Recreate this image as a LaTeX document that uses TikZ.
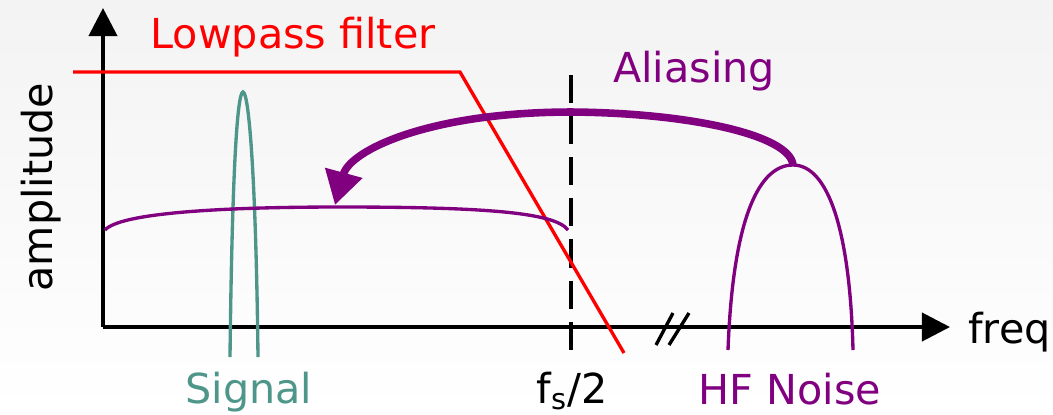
\documentclass[tikz,border=0pt]{standalone}
\usepackage{fontspec}
\setmainfont{DejaVu Sans}
\usepackage{xcolor}
\usetikzlibrary{arrows.meta}
\definecolor{lpred}{RGB}{255,0,0}
\definecolor{aliaspurple}{RGB}{128,0,128}
\definecolor{sigteal}{RGB}{78,150,138}
\definecolor{slidebg}{RGB}{243,243,243}

\begin{document}
\begin{tikzpicture}[
  x=0.02cm, y=-0.02cm,
  axis/.style={line width=2.2pt, -{Triangle[length=16pt, width=16pt]}},
  lbl/.style={inner sep=0, anchor=base, font=\fontsize{23.5}{27}\selectfont},
  thin/.style={line width=1.9pt},
  fold/.style={line width=4.3pt, aliaspurple, -{Triangle[length=19pt, width=21pt]}}
]
\useasboundingbox (0,0) rectangle (1053,414);
\shade[top color=slidebg, bottom color=white] (0,0) rectangle (1053,414);

\coordinate (O) at (103,327);
\coordinate (ytip) at (103,8);
\coordinate (xtip) at (950,327);
\draw[axis] (O) -- (ytip);
\draw[axis] (O) -- (xtip);
\draw[thin] (656,345) -- (673,313);
\draw[thin] (669,345) -- (689,313);

\node[lbl, rotate=90] (amp) at (52,187) {amplitude};
\node[lbl, anchor=base west] (freq) at (968,343) {freq};

% sampling limit
\coordinate (nyqtop) at (571,75);
\coordinate (nyqbot) at (571,355);
\draw[line width=2.2pt, dash pattern=on 16pt off 7.4pt] (nyqtop) -- (nyqbot);
\node[lbl] (nyq) at (572,403) {f\textsubscript{s}/2};

% filter
\draw[thin, lpred] (73,72) -- (460,72) -- (624,353);
\node[lbl, text=lpred] (lp) at (293,48) {Lowpass filter};

% signal
\draw[thin, sigteal] (230,357) .. controls (232,180) and (237,92) .. (243,92)
  .. controls (249,92) and (256,180) .. (258,357);
\node[lbl, text=sigteal] (sig) at (249,403) {Signal};

% noise and its alias
\coordinate (npeak) at (793,165);
\draw[thin, aliaspurple] (728,350) .. controls (733,215) and (760,165) .. (npeak)
  .. controls (828,165) and (850,230) .. (853,350);
\node[lbl, text=aliaspurple] (hfn) at (790,404) {HF Noise};
\draw[thin, aliaspurple] (105,230) .. controls (120,213) and (220,207) .. (340,207)
  .. controls (480,207) and (555,212) .. (568,230);
\coordinate (atip) at (335,205);
\draw[fold] (npeak) .. controls (790,135) and (690,113) .. (572,112)
  .. controls (430,112) and (350,150) .. (atip);
\node[lbl, text=aliaspurple] (al) at (694,82) {Aliasing};
\end{tikzpicture}
\end{document}
